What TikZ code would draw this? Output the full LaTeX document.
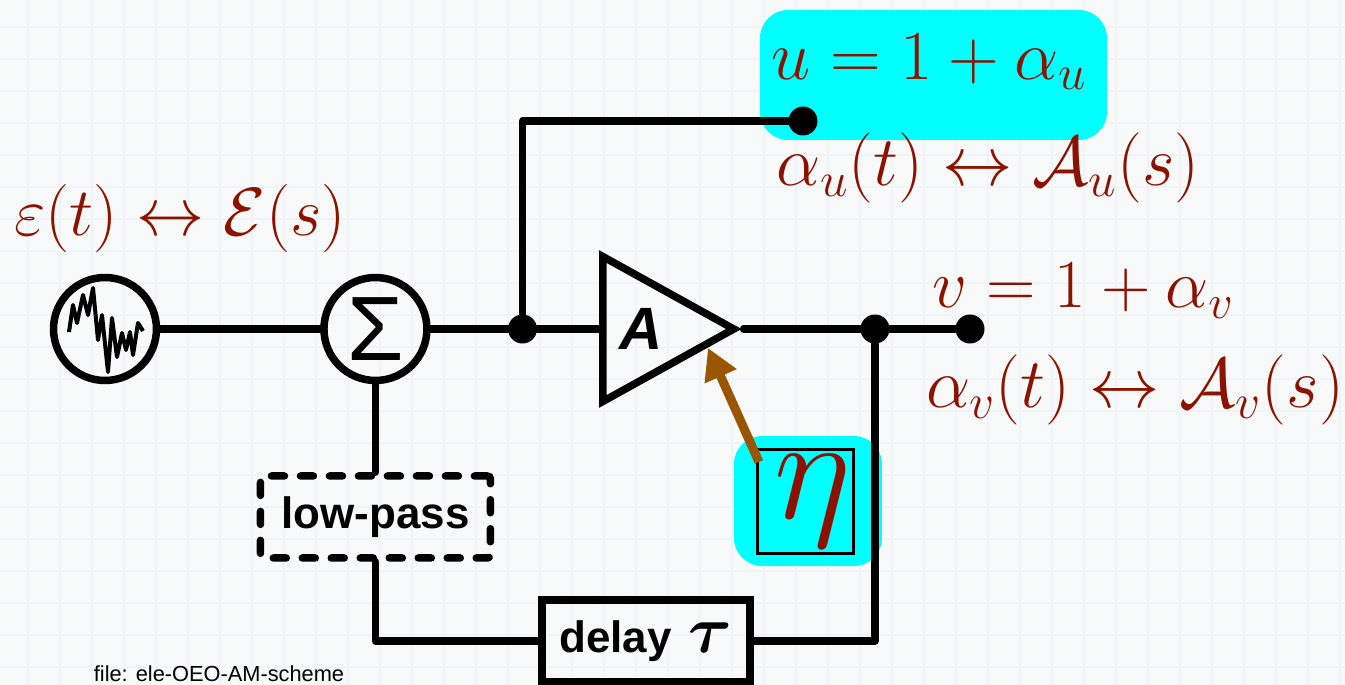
\documentclass[tikz,border=0pt]{standalone}
\usepackage{amsmath,amssymb,bm}
\usepackage{fix-cm}
\usepackage{fontspec}
\setmainfont{Liberation Sans}
\usepackage{xcolor}
\usetikzlibrary{arrows.meta,positioning,shapes.geometric}
\definecolor{paperbg}{HTML}{F8F9F9}
\definecolor{gridblue}{HTML}{EEF4F8}
\definecolor{mathred}{HTML}{8C1200}
\definecolor{arrowbrown}{HTML}{995500}
\definecolor{hilite}{HTML}{00FFFF}
\newcommand{\mathsz}{\fontsize{40}{44}\selectfont}

\begin{document}
\begin{tikzpicture}[x=0.02cm,y=-0.02cm,>=Latex]
\tikzstyle{wire}=[line width=0.15cm,line cap=round,line join=round]
\tikzstyle{ring}=[draw,circle,line width=0.15cm,minimum size=2.06cm,inner sep=0pt]
\tikzstyle{dot}=[fill=black,circle,minimum size=0.58cm,inner sep=0pt]
\tikzstyle{blk}=[draw,line width=0.15cm,align=center,inner sep=0pt,font=\fontsize{25}{28}\selectfont\bfseries]
\tikzstyle{eqn}=[text=mathred,inner sep=0pt,font=\mathsz]
\tikzstyle{glow}=[fill=hilite,rounded corners=0.56cm,inner sep=0pt]
% backdrop
\fill[paperbg] (0,0) rectangle (1345,685);
\useasboundingbox (0,0) rectangle (1345,685);
\foreach \gx in {28,60,...,1340} \draw[gridblue,line width=0.05cm] (\gx,0) -- (\gx,685);
\foreach \gy in {27,59,...,680} \draw[gridblue,line width=0.05cm] (0,\gy) -- (1345,\gy);
% highlights
\node[glow,minimum width=6.94cm,minimum height=2.6cm] (ubox) at (933.5,75) {};
\node[glow,minimum width=2.96cm,minimum height=2.6cm] (etabox) at (808,501) {};
% signal path
\node[ring] (noise) at (105,329) {};
\node[ring,right=3.2cm of noise,font=\fontsize{52}{52}\selectfont] (sum) {Σ};
\node[dot,right=1.54cm of sum] (split) {};
\node[draw,isosceles triangle,isosceles triangle stretches,line width=0.15cm,inner sep=0pt,
  minimum width=2.9cm,minimum height=2.62cm,font=\fontsize{34}{34}\selectfont\bfseries\itshape,
  anchor=lower side] (amp) at (599,329) {A};
\node[dot] (outdot) at (875,329) {};
\node[dot] (vdot) at (970,329) {};
\node[dot] (udot) at (803,121) {};
\node[blk,dashed,dash pattern=on 0.26cm off 0.32cm,line cap=round,rounded corners=0.06cm,
  minimum width=4.6cm,minimum height=1.64cm,below=1.76cm of sum] (lowpass) {low-pass};
\node[blk,minimum width=4.16cm,minimum height=1.64cm] (delay) at (646,641) {delay\hspace{0.1cm} {\fontsize{38}{38}\selectfont\boldmath$\tau$}};
\node[draw,line width=0.06cm,minimum width=1.92cm,minimum height=2.1cm,inner sep=0pt,
  text=mathred,font=\fontsize{84}{84}\selectfont] (gain) at (805,501.5) {\hspace{0.32cm}$\eta$};
\coordinate (gaintail) at (759,462);
\coordinate (gaintip) at (708,348);
% wires
\draw[wire] (noise) -- (sum);
\draw[wire] (sum) -- (split);
\draw[wire] (split) -- (amp.lower side);
\draw[wire] (amp.apex) -- (vdot);
\draw[wire] (split) |- (udot);
\draw[wire] (sum) -- (lowpass);
\draw[wire] (lowpass.south) |- (delay.west);
\draw[wire] (delay.east) -| (outdot);
\draw[line width=0.18cm,arrowbrown,-{Triangle[length=0.62cm,width=0.66cm]}] (gaintail) -- (gaintip);
\draw[line width=0.08cm,line join=round] (69,332)--(73,305)--(77,323)--(83,295)--(88,315)--(93,288)--(98,340)--(102,315)--(108,372)--(112,318)--(117,357)--(122,333)--(126,350)--(130,332)--(133,355)--(138,323)--(143,331);
% equations
\node[eqn] (ueq) at (929,62) {$u=1+\alpha_u$};
\node[eqn] (utrans) at (988,168) {$\alpha_u(t)\leftrightarrow\mathcal{A}_u(s)$};
\node[eqn,font=\fontsize{38.8}{44}\selectfont] (etrans) at (180,218) {$\varepsilon(t)\leftrightarrow\mathcal{E}(s)$};
\node[eqn,font=\fontsize{39}{44}\selectfont] (veq) at (1083,291) {$v=1+\alpha_v$};
\node[eqn] (vtrans) at (1135,390) {$\alpha_v(t)\leftrightarrow\mathcal{A}_v(s)$};
\node[font=\fontsize{12.4}{14}\selectfont,inner sep=0pt] (fname) at (219,674) {file: ele-OEO-AM-scheme};
\end{tikzpicture}
\end{document}
